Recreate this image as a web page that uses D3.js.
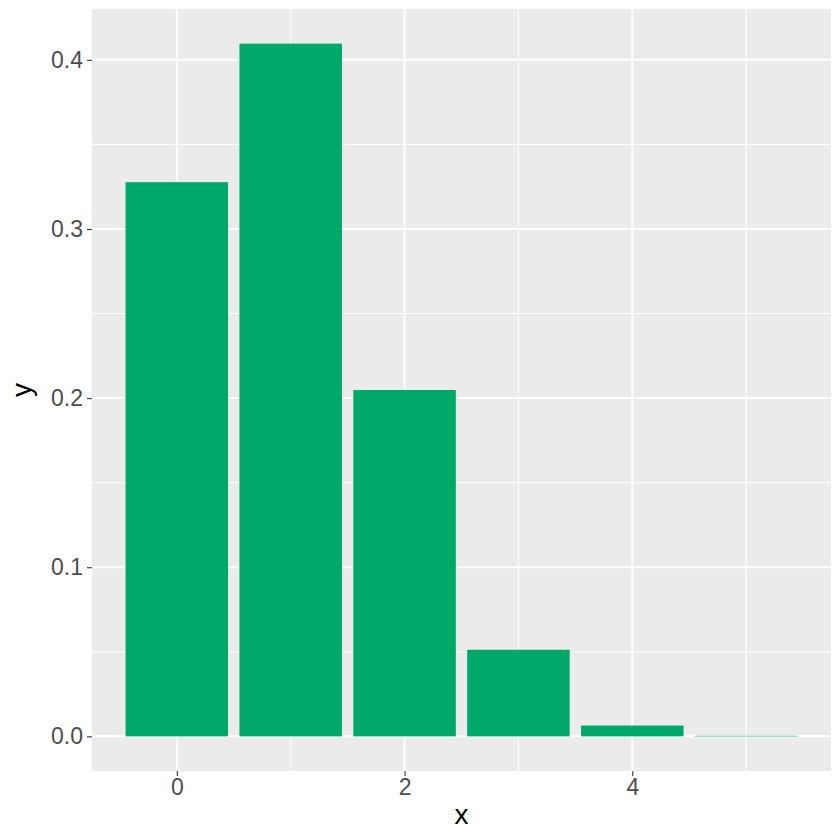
<!DOCTYPE html>
<html>
<head>
<meta charset="utf-8">
<script src="https://cdn.jsdelivr.net/npm/d3@7"></script>
<style>
  body { margin: 0; background: #fff; }
  text { font-family: "Liberation Sans", Arial, sans-serif; }
</style>
</head>
<body>
<svg width="840" height="840"></svg>
<script>
// binomial probabilities, n = 5, p = 0.2
const xs = [0, 1, 2, 3, 4, 5];
const ys = [0.32768, 0.4096, 0.2048, 0.0512, 0.0064, 0.00032];
const xTicks = [0, 2, 4];
const yTicks = [0.0, 0.1, 0.2, 0.3, 0.4];

const svg = d3.select("svg");
const panel = { left: 92, right: 831, top: 9, bottom: 771 };

const xScale = d3.scaleLinear()
    .domain([-0.745, 5.745])
    .range([panel.left, panel.right]);

const yScale = d3.scaleLinear()
    .domain([-0.02048, 0.43008])
    .range([panel.bottom, panel.top]);

// grey panel
svg.append("rect")
    .attr("x", panel.left).attr("y", panel.top)
    .attr("width", panel.right - panel.left)
    .attr("height", panel.bottom - panel.top)
    .attr("fill", "#EBEBEB");

// minor grid lines
const xMinor = [1, 3, 5];
const yMinor = [0.05, 0.15, 0.25, 0.35];
svg.selectAll(".xminor").data(xMinor).enter().append("line")
    .attr("x1", d => xScale(d)).attr("x2", d => xScale(d))
    .attr("y1", panel.top).attr("y2", panel.bottom)
    .attr("stroke", "#fff").attr("stroke-width", 1);
svg.selectAll(".yminor").data(yMinor).enter().append("line")
    .attr("y1", d => yScale(d)).attr("y2", d => yScale(d))
    .attr("x1", panel.left).attr("x2", panel.right)
    .attr("stroke", "#fff").attr("stroke-width", 1);

// major grid lines
svg.selectAll(".xmajor").data(xTicks).enter().append("line")
    .attr("x1", d => xScale(d)).attr("x2", d => xScale(d))
    .attr("y1", panel.top).attr("y2", panel.bottom)
    .attr("stroke", "#fff").attr("stroke-width", 2);
svg.selectAll(".ymajor").data(yTicks).enter().append("line")
    .attr("y1", d => yScale(d)).attr("y2", d => yScale(d))
    .attr("x1", panel.left).attr("x2", panel.right)
    .attr("stroke", "#fff").attr("stroke-width", 2);

// bars
svg.selectAll(".bar").data(xs).enter().append("rect")
    .attr("x", d => xScale(d - 0.45))
    .attr("width", d => xScale(d + 0.45) - xScale(d - 0.45))
    .attr("y", (d, i) => yScale(ys[i]))
    .attr("height", (d, i) => yScale(0) - yScale(ys[i]))
    .attr("fill", "#00A86A");

// axes
const xAxis = svg.append("g")
    .attr("transform", `translate(0,${panel.bottom})`)
    .call(d3.axisBottom(xScale).tickValues(xTicks).tickFormat(d3.format("d"))
        .tickSize(5).tickPadding(3));
const yAxis = svg.append("g")
    .attr("transform", `translate(${panel.left},0)`)
    .call(d3.axisLeft(yScale).tickValues(yTicks).tickFormat(d3.format(".1f"))
        .tickSize(5).tickPadding(4));

[xAxis, yAxis].forEach(g => {
    g.attr("font-size", 23).attr("font-family", "Liberation Sans, Arial, sans-serif");
    g.select(".domain").remove();
    g.selectAll("line").attr("stroke", "#333").attr("stroke-width", 1.1);
    g.selectAll("text").attr("fill", "#4D4D4D");
});

// axis titles
svg.append("text")
    .attr("x", (panel.left + panel.right) / 2).attr("y", 824)
    .attr("text-anchor", "middle")
    .attr("font-size", 28)
    .text("x");
svg.append("text")
    .attr("transform", `translate(31,${(panel.top + panel.bottom) / 2}) rotate(-90)`)
    .attr("text-anchor", "middle")
    .attr("font-size", 28)
    .text("y");
</script>
</body>
</html>
